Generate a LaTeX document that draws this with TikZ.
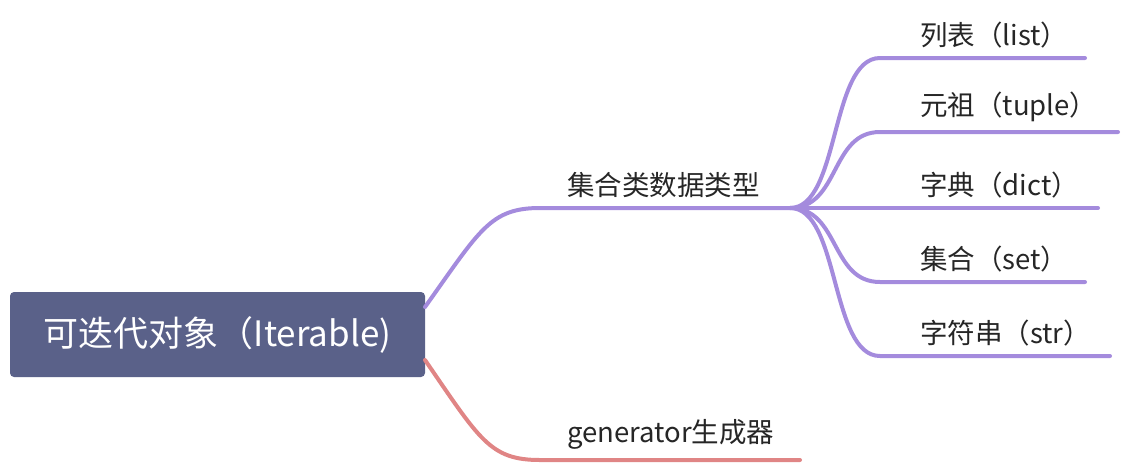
\documentclass[tikz,border=0pt]{standalone}
\usepackage{fontspec}
\setmainfont{Noto Sans CJK SC}
\definecolor{rootc}{HTML}{5A6189}
\definecolor{purp}{HTML}{A48BDD}
\definecolor{redc}{HTML}{E08585}
\begin{document}
\begin{tikzpicture}[x=1pt,y=-1pt,
  br/.style={line width=4pt,line cap=round},
  lbl/.style={anchor=south west,inner sep=0pt,font=\fontsize{27.5}{30}\selectfont,text=black!85}]
\useasboundingbox (0,0) rectangle (1126,464);
\node[fill=rootc,rounded corners=4pt,minimum width=415pt,minimum height=85pt,text=white,font=\fontsize{35}{38}\selectfont] (root) at (217.5,334.5) {可迭代对象（Iterable)};
\coordinate (r1) at (425,307);
\coordinate (r2) at (425,360);
\coordinate (m) at (540,208);
\coordinate (me) at (790,208);
\coordinate (g) at (540,460);
\coordinate (ge) at (800,460);
\draw[br,purp] (r1) .. controls (480,230) and (490,208) .. (m) -- (me);
\draw[br,redc] (r2) .. controls (480,440) and (490,460) .. (g) -- (ge);
\node[lbl] (t0) at (567,198) {集合类数据类型};
\node[lbl] (t5) at (567,450) {generator生成器};
\foreach \y/\e/\t [count=\i] in {58/1085/列表（list）,132/1118/元祖（tuple）,208/1098/字典（dict）,282/1085/集合（set）,356/1110/字符串（str）}{
  \coordinate (c\i) at (880,\y);
  \coordinate (e\i) at (\e,\y);
  \draw[br,purp] (me) .. controls (840,208) and (830,\y) .. (c\i) -- (e\i);
  \node[lbl] (l\i) at (920,\y-10) {\t};
}
\end{tikzpicture}
\end{document}
